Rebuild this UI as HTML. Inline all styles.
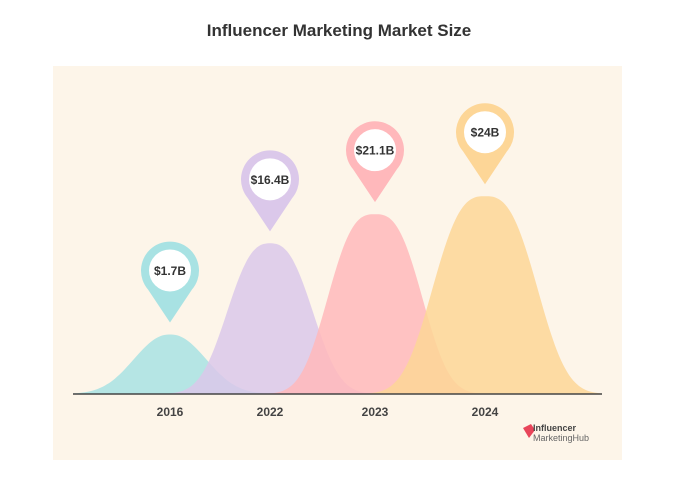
<!DOCTYPE html>
<html><head><meta charset="utf-8"><style>
body{margin:0;background:#fff;font-family:"Liberation Sans",sans-serif;}
</style></head><body>
<svg width="678" height="477" viewBox="0 0 678 477">
<text x="339" y="36" text-anchor="middle" font-size="17" font-weight="bold" fill="#333">Influencer Marketing Market Size</text>
<rect x="53" y="66" width="569" height="394" fill="#fdf5e9"/>
<g id="bells"></g>
<line x1="73" y1="394" x2="602" y2="394" stroke="#444" stroke-width="1.5"/>
<g id="pins"></g>
<g id="labels"></g>
<g>
<path d="M523 428 l8 -4 l4 6 l-6 8 z" fill="#e8455a"/>
<text x="533" y="431" font-size="9" font-weight="bold" fill="#444">Influencer</text>
<text x="533" y="441" font-size="9" fill="#666">MarketingHub</text>
</g>
</svg>
<script>
const categories=["2016","2022","2023","2024"];
const values=[1.7,16.4,21.1,24];
const valueLabels=["$1.7B","$16.4B","$21.1B","$24B"];
const colors=["#a8e2e3","#dbc8ea","#ffb8bb","#fdd697"];
const centers=[170,270,375,485];
const spreads=[48,52,56,62];
const powers=[2.2,2.6,2.8,2.8];
const baseY=394;
function yScale(v){return baseY-(49+6.2*v);}
const ns="http://www.w3.org/2000/svg";
const bells=document.getElementById('bells'),pins=document.getElementById('pins'),labels=document.getElementById('labels');
categories.forEach((c,i)=>{
  const top=yScale(values[i]),h=baseY-top,cx=centers[i];
  let d="M73 "+baseY;
  for(let x=73;x<=602;x+=2){const y=baseY-h*Math.exp(-Math.pow(Math.abs(x-cx)/spreads[i],powers[i]));d+=" L"+x+" "+y.toFixed(1);}
  d+=" L602 "+baseY+" Z";
  const p=document.createElementNS(ns,'path');p.setAttribute('d',d);p.setAttribute('fill',colors[i]);p.setAttribute('fill-opacity','0.85');
  
  
  bells.appendChild(p);
  const tip=top-12,cy=top-64,r=29;
  const g=document.createElementNS(ns,'g');
  
  
  const pp=document.createElementNS(ns,'path');
  pp.setAttribute('d',`M${cx} ${tip} L${cx-22} ${cy+19} A${r} ${r} 0 1 1 ${cx+22} ${cy+19} Z`);
  pp.setAttribute('fill',colors[i]);g.appendChild(pp);
  const ci=document.createElementNS(ns,'circle');ci.setAttribute('cx',cx);ci.setAttribute('cy',cy);ci.setAttribute('r',21);ci.setAttribute('fill','#fff');g.appendChild(ci);
  const t=document.createElementNS(ns,'text');t.setAttribute('x',cx);t.setAttribute('y',cy+4.5);t.setAttribute('text-anchor','middle');t.setAttribute('font-size','12');t.setAttribute('font-weight','bold');t.setAttribute('fill','#333');t.textContent=valueLabels[i];g.appendChild(t);
  pins.appendChild(g);
  const l=document.createElementNS(ns,'text');l.setAttribute('x',cx);l.setAttribute('y',416);l.setAttribute('text-anchor','middle');l.setAttribute('font-size','12');l.setAttribute('font-weight','bold');l.setAttribute('fill','#444');l.textContent=c;
  
  
  labels.appendChild(l);
});
</script>
</body></html>
